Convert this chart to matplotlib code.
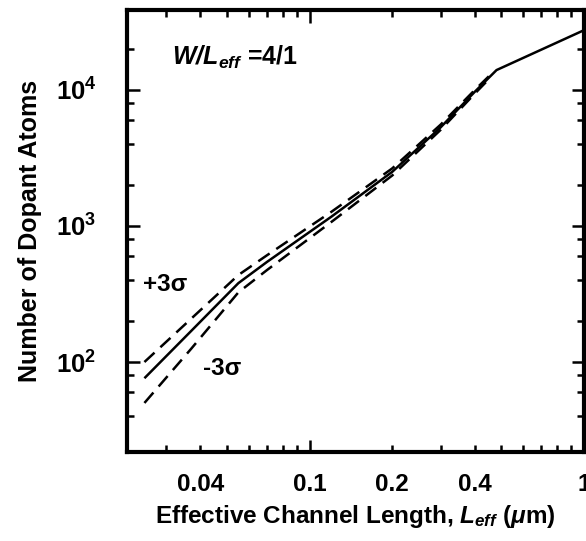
import matplotlib
matplotlib.use("Agg")
import matplotlib.pyplot as plt
from matplotlib.ticker import FixedLocator, FuncFormatter, NullFormatter

# ---- data ----
L_center = [0.025, 0.037, 0.055, 0.07, 0.12, 0.2, 0.3, 0.4, 0.48, 1.0]
N_center = [76, 169, 380, 545, 1170, 2500, 5300, 9700, 14000, 27500]

L_dash = [0.025, 0.037, 0.055, 0.07, 0.12, 0.2, 0.3, 0.4, 0.45]
N_plus = [100, 208, 436, 610, 1270, 2650, 5550, 10000, 12600]
N_minus = [50, 125, 325, 475, 1070, 2350, 5080, 9400, 12000]

x_major = [0.1, 1.0]
x_minor = [0.03, 0.04, 0.05, 0.06, 0.07, 0.08, 0.09,
           0.2, 0.3, 0.4, 0.5, 0.6, 0.7, 0.8, 0.9]
x_labeled = {0.04: "0.04", 0.1: "0.1", 0.2: "0.2", 0.4: "0.4", 1.0: "1"}
y_major = [100, 1000, 10000]
y_major_labels = [r"$\mathbf{10^{2}}$", r"$\mathbf{10^{3}}$", r"$\mathbf{10^{4}}$"]
y_minor = [40, 60, 80, 200, 400, 600, 800, 2000, 4000, 6000, 8000, 20000]

plt.rcParams["font.family"] = ["Liberation Sans", "DejaVu Sans"]
plt.rcParams["mathtext.fontset"] = "custom"
plt.rcParams["mathtext.rm"] = "Liberation Sans"
plt.rcParams["mathtext.bf"] = "Liberation Sans:bold"
plt.rcParams["mathtext.it"] = "Liberation Sans:italic"
plt.rcParams["mathtext.bfit"] = "Liberation Sans:bold:italic"

fig = plt.figure(figsize=(5.86, 5.41), dpi=100)
ax = fig.add_axes([127 / 586, 1 - 452 / 541, 457 / 586, 442 / 541])
ax.set_xscale("log")
ax.set_yscale("log")
ax.set_xlim(0.0216, 1.0)
ax.set_ylim(21.8, 38700)

ax.plot(L_center, N_center, color="black", lw=1.8, solid_capstyle="butt")
ax.plot(L_dash, N_plus, color="black", lw=1.8, dashes=(5.5, 3.2))
ax.plot(L_dash, N_minus, color="black", lw=1.8, dashes=(5.5, 3.2))

for s in ax.spines.values():
    s.set_linewidth(3.0)

ax.xaxis.set_major_locator(FixedLocator(x_major))
ax.xaxis.set_minor_locator(FixedLocator(x_minor))
fmt = FuncFormatter(lambda v, p: x_labeled.get(round(v, 4), ""))
ax.xaxis.set_major_formatter(fmt)
ax.xaxis.set_minor_formatter(fmt)

ax.yaxis.set_major_locator(FixedLocator(y_major))
ax.set_yticklabels(y_major_labels)
ax.yaxis.set_minor_locator(FixedLocator(y_minor))
ax.yaxis.set_minor_formatter(NullFormatter())

ax.tick_params(which="both", direction="in", top=True, right=True,
               width=1.8)
ax.tick_params(which="major", length=9)
ax.tick_params(which="minor", length=5)
ax.tick_params(axis="x", which="both", pad=15, labelsize=17.5)
ax.tick_params(axis="y", which="major", pad=22, labelsize=18.5)
for lab in ax.get_xticklabels(which="both"):
    lab.set_fontweight("bold")

ax.set_xlabel(r"Effective Channel Length, $\mathbfit{L_{eff}}$ ($\mathbfit{μ}$m)",
              fontsize=17.5, fontweight="bold", labelpad=5)
ax.set_ylabel("Number of Dopant Atoms", fontsize=18, fontweight="bold", labelpad=10)

ax.text(0.098, 0.876, r"$\mathbfit{W/L_{eff}}$ =4/1", transform=ax.transAxes,
        fontsize=18, fontweight="bold", va="baseline", ha="left")
ax.text(0.035, 0.378, "+3σ", transform=ax.transAxes, fontsize=17.5,
        fontweight="bold", va="center", ha="left")
ax.text(0.166, 0.190, "-3σ", transform=ax.transAxes, fontsize=17.5,
        fontweight="bold", va="center", ha="left")

fig.savefig("out.png", dpi=100)
